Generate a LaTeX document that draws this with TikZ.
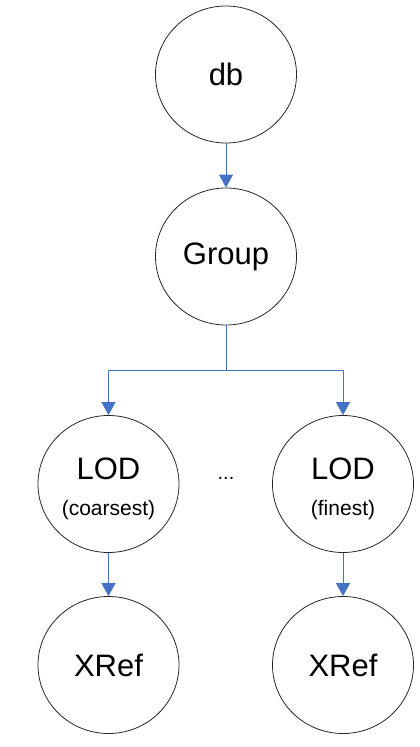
\documentclass[tikz,border=0pt]{standalone}
\usepackage{fontspec}
\setmainfont{Liberation Sans}
\usetikzlibrary{shapes.geometric,arrows.meta}
\definecolor{linkblue}{HTML}{4472C4}

\begin{document}
\begin{tikzpicture}[x=1pt, y=-1pt, inner sep=0pt,
            every node/.style={font=\fontsize{31}{31}\selectfont},
            circ/.style={draw=black!85, line width=0.8pt, ellipse, minimum width=141pt, minimum height=137pt, align=center},
            link/.style={draw=linkblue, line width=1pt, -{Triangle[length=13pt,width=14pt]}}]
            \useasboundingbox (0,0) rectangle (420,747);
            \node[circ](ndb) at (226, 74.5) {db};
            \node[circ](ngroup) at (226, 256.5) {Group};
            \node[circ](nlodc) at (108.5, 484) {\rule{0pt}{32pt}LOD\\[5pt]{\fontsize{21}{21}\selectfont (coarsest)}};
            \node[circ](nlodf) at (343, 484) {\rule{0pt}{32pt}LOD\\[5pt]{\fontsize{21}{21}\selectfont (finest)}};
            \node[circ](nxc) at (108.5, 665) {XRef};
            \node[circ](nxf) at (343, 665) {XRef};
            \node(ndots) at (226, 478) {\fontsize{20}{20}\selectfont ...};
            \coordinate(split) at (226, 370);

            \begin{scope}
                \draw[link](ndb)--(ngroup);
                \draw[draw=linkblue, line width=1pt](ngroup)--(split);
                \draw[link](split)-|(nlodc);
                \draw[link](split)-|(nlodf);
                \draw[link](nlodc)--(nxc);
                \draw[link](nlodf)--(nxf);
            \end{scope}
        \end{tikzpicture}
\end{document}
